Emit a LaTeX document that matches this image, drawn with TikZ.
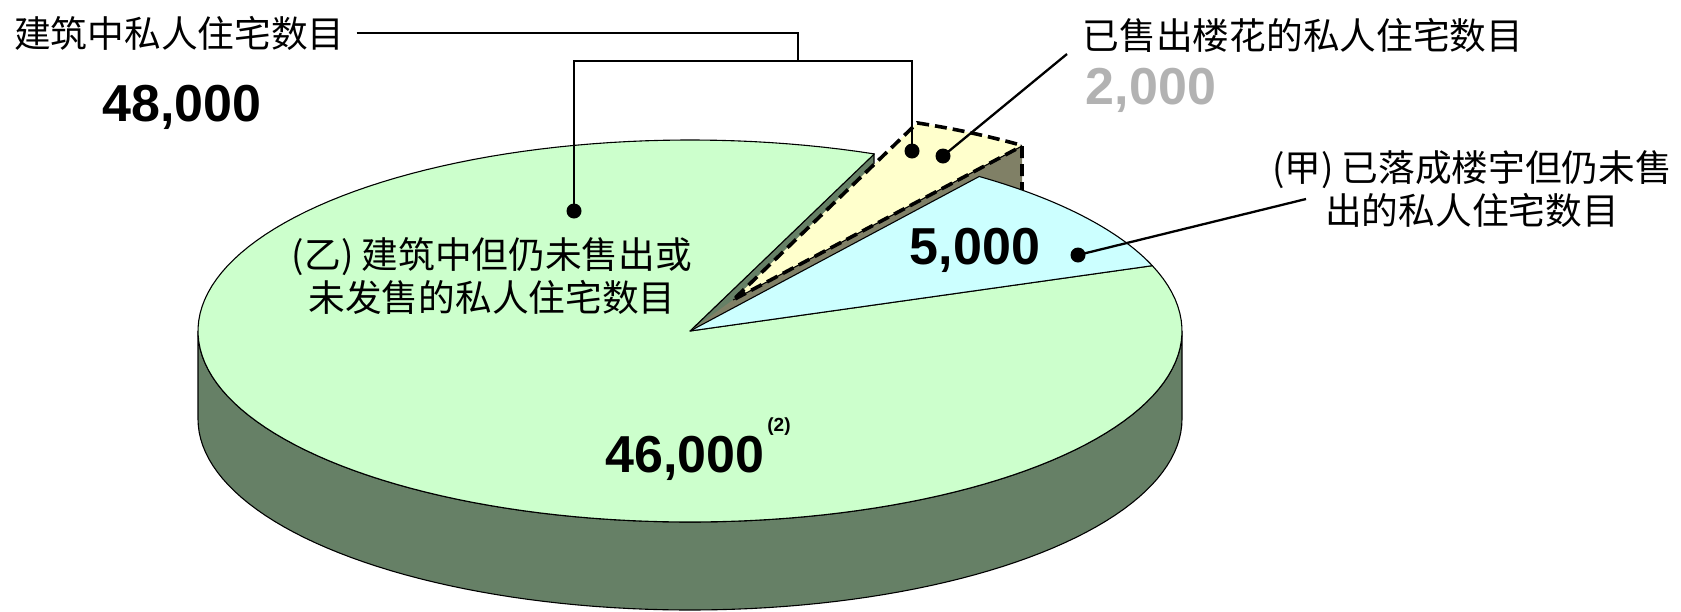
\documentclass[tikz,border=0pt]{standalone}
\usepackage{fontspec}
\setmainfont{Liberation Sans}
\newfontfamily\cjk{Noto Sans CJK SC}
\usepackage{tikz}

\definecolor{greentop}{HTML}{CCFFCC}
\definecolor{greenside}{HTML}{668066}
\definecolor{cyantop}{HTML}{CCFFFF}
\definecolor{yellowtop}{HTML}{FFFFCC}
\definecolor{yellowside}{HTML}{808066}
\definecolor{numgray}{HTML}{B2B2B2}

\tikzset{
  face/.style={draw, line width=1.1pt, line join=round},
  slicedash/.style={draw=black, line width=3.6pt, dash pattern=on 12pt off 6pt},
  leader/.style={line width=2.3pt},
  leaderdot/.style={circle, fill, inner sep=0pt, minimum size=15pt},
  cjklabel/.style={font=\cjk\fontsize{36.7}{43}\selectfont, align=center},
  bignum/.style={font=\bfseries\fontsize{52}{52}\selectfont},
}

\begin{document}
\begin{tikzpicture}[x=1pt, y=-1pt]
\useasboundingbox (0,0) rectangle (1681,611);

% pie: wall, then the three slices
\filldraw [face, fill=greenside] (198,331) -- (198,419)
  -- plot [domain=180:360, samples=90, variable=\t] ({690+492*cos(\t)}, {419-191*sin(\t)})
  -- (1182,331)
  -- plot [domain=360:180, samples=90, variable=\t] ({690+492*cos(\t)}, {331-191*sin(\t)}) -- cycle;
\filldraw [face, fill=greenside] (690,331) -- (874,154) -- (874,242) -- (690,419) -- cycle;
\filldraw [face, fill=greentop] (690,331)
  -- plot [domain=68:380, samples=150, variable=\t] ({690+492*cos(\t)}, {331-191*sin(\t)}) -- cycle;
\fill [yellowside] (733,300) -- (1022,145) -- (1022,200) -- (690,331) -- cycle;
\fill [yellowtop] (733,300)
  -- plot [domain=54:68, samples=20, variable=\t] ({733+492*cos(\t)}, {300-191*sin(\t)}) -- cycle;
\draw [face] (733,300) -- (1022,146);
\path [slicedash] (1022,194) -- (1022,146)
  -- plot [domain=54:68, samples=20, variable=\t] ({733+492*cos(\t)}, {300-191*sin(\t)})
  -- (733,300) -- (1022,146);
\filldraw [face, fill=cyantop] (690,331)
  -- plot [domain=20:54, samples=40, variable=\t] ({690+492*cos(\t)}, {331-191*sin(\t)}) -- cycle;

\path (14,33) node [cjklabel, anchor=west, inner sep=0pt] (total) {建筑中私人住宅数目}
      (182,107) node [bignum] (totalnum) {48,000}
      (1303,35) node [cjklabel] (sold) {已售出楼花的私人住宅数目}
      (1151,90) node [bignum, text=numgray] (soldnum) {2,000}
      (1472,189) node [cjklabel] (unsold) {(甲) 已落成楼宇但仍未售\\出的私人住宅数目}
      (975,250) node [bignum] (unsoldnum) {5,000}
      (492,276) node [cjklabel] (building) {(乙) 建筑中但仍未售出或\\未发售的私人住宅数目}
      (685,458) node [bignum] (buildnum) {46,000}
      (779,427) node [font=\bfseries\fontsize{19}{19}\selectfont] (note) {(2)}
      (912,151) node [leaderdot] (dota) {}
      (574,211) node [leaderdot] (dotb) {}
      (943,156) node [leaderdot] (dotc) {}
      (1078,255) node [leaderdot] (dotd) {}
      ;
\coordinate (joint) at (798,61);
\coordinate (soldend) at (1067,54);
\coordinate (unsoldend) at (1306,199);

\draw [leader] ([xshift=12pt]total.east) -| (joint);
\draw [leader] (dotb.center) |- (joint) -| (dota.center);
\draw [leader] (dotc.center) -- (soldend);
\draw [leader] (dotd.center) -- (unsoldend);
\end{tikzpicture}
\end{document}
